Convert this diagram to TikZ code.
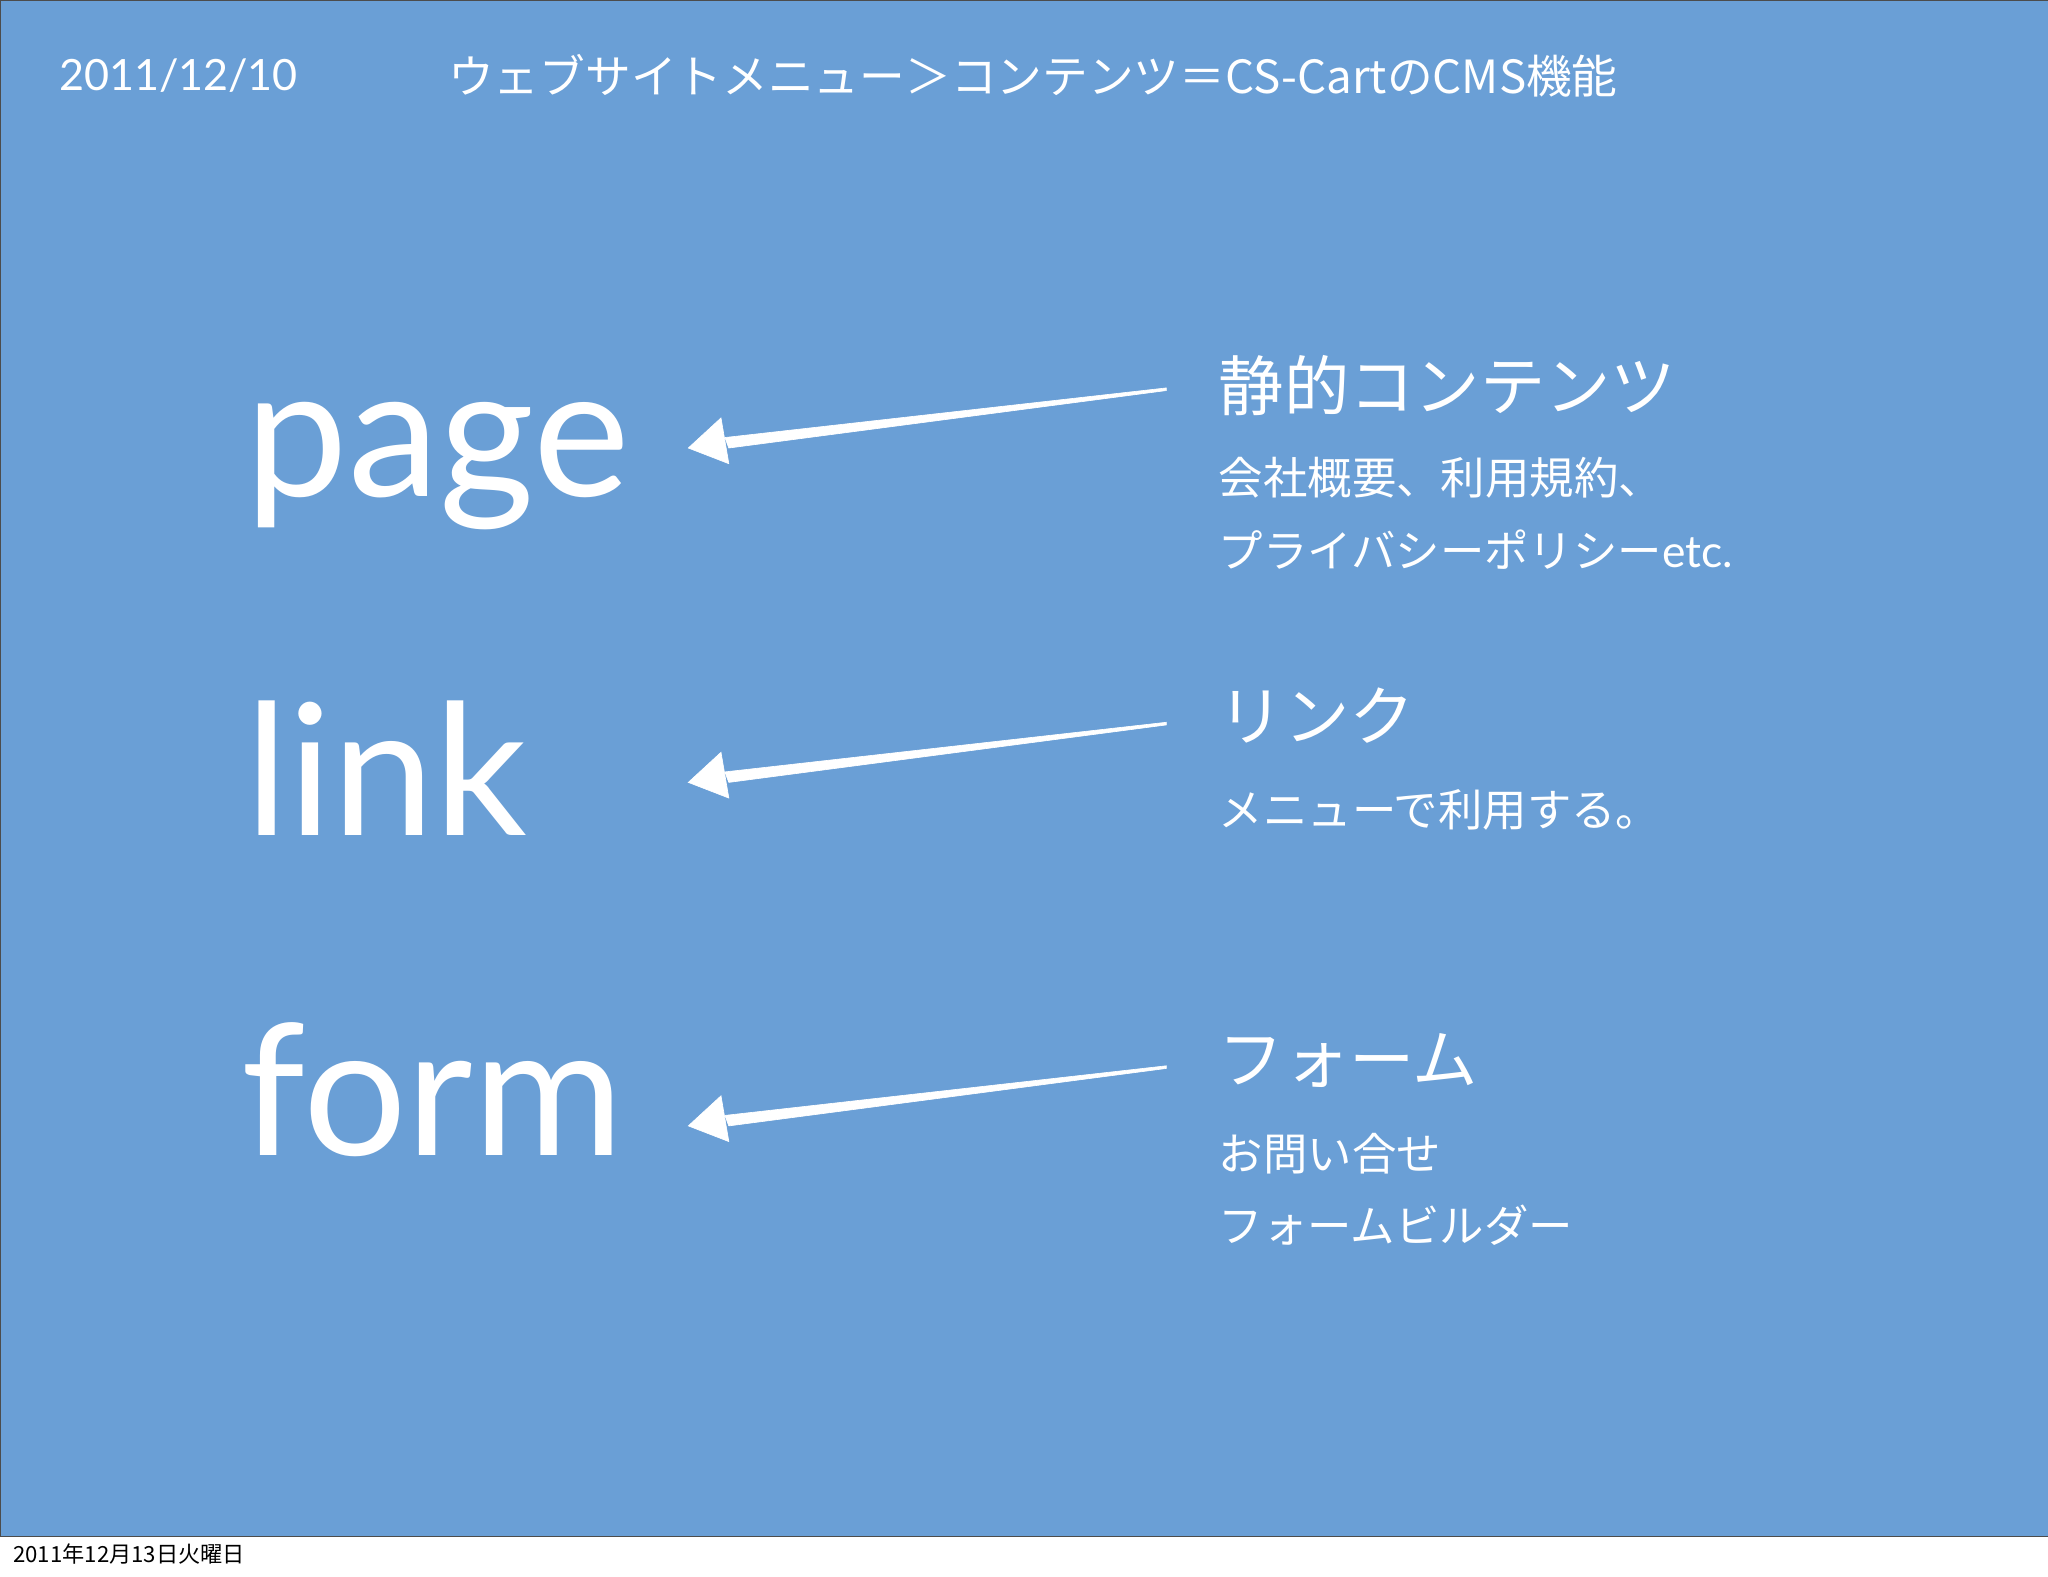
\documentclass[tikz,border=0pt]{standalone}
\usepackage{fontspec}
\setmainfont{Lato}
\newfontfamily\jp{Noto Sans CJK JP}
\newfontfamily\hv{Liberation Sans}
\begin{document}
\begin{tikzpicture}[x=1pt,y=-1pt,
  every node/.style={inner sep=0pt,text=white},
  big/.style={anchor=base west,font=\fontsize{140}{140}\selectfont},
  head/.style={anchor=west,font=\jp\fontsize{50}{50}\selectfont},
  sub/.style={anchor=west,font=\jp\fontsize{34}{34}\selectfont},
  chalk/.style={fill=white,draw=white,line width=0.5pt}]
\useasboundingbox (0,0) rectangle (1568,1207);
\fill[white] (0,0) rectangle (1568,1207);
\fill[fill={rgb,255:red,106;green,159;blue,214},draw=black!70] (0,0) rectangle (1568,1176);
\node[anchor=west,font=\fontsize{33}{33}\selectfont] (date) at (45,58) {2011/12/10};
\node[anchor=west,font=\jp\fontsize{35}{35}\selectfont] (title) at (343,58) {ウェブサイトメニュー＞コンテンツ＝CS-CartのCMS機能};
\node[big] (page) at (188,380) {page};
\node[big] (link) at (188,640) {link};
\node[big] (form) at (185,885) {form};
\node[head] (h1) at (933,295) {静的コンテンツ};
\node[sub] (s1a) at (933,366) {会社概要、利用規約、};
\node[sub] (s1b) at (933,421) {プライバシーポリシー\fontspec{Lato} etc.};
\node[head] (h2) at (933,548) {リンク};
\node[sub] (s2) at (933,620) {メニューで利用する。};
\node[head] (h3) at (933,812) {フォーム};
\node[sub] (s3a) at (933,883) {お問い合せ};
\node[sub] (s3b) at (933,938) {フォームビルダー};
\foreach \n/\y in {a/0,b/256,c/519}{
  \coordinate (t\n) at (893,298+\y);
  \coordinate (p\n) at (527,343+\y);
  \fill[chalk] (893,297+\y) -- (555,335+\y) -- (558,343+\y) -- (893,299+\y) -- cycle;
  \fill[chalk] (p\n) -- (552,320+\y) -- (558,355+\y) -- cycle;
}
\node[anchor=west,text=black,font=\jp\fontsize{17}{17}\selectfont] (foot) at (10,1190) {2011年12月13日火曜日};
\end{tikzpicture}
\end{document}
